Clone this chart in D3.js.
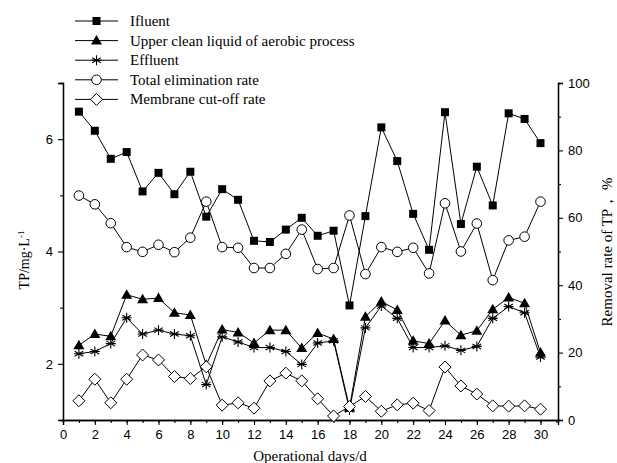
<!DOCTYPE html>
<html>
<head>
<meta charset="utf-8">
<script src="https://cdn.jsdelivr.net/npm/d3@7"></script>
<style>
  body { margin: 0; background: #fff; }
  svg { display: block; }
</style>
</head>
<body>
<div id="chart"></div>
<script>
// data
const days = d3.range(1, 31);
const influent = [6.49, 6.15, 5.65, 5.77, 5.07, 5.40, 5.02, 5.42, 4.62, 5.11, 4.92, 4.19, 4.17, 4.39, 4.60, 4.28, 4.37, 3.04, 4.63, 6.21, 5.61, 4.67, 4.03, 6.48, 4.49, 5.51, 4.82, 6.46, 6.36, 5.93];
const upperLiquid = [2.33, 2.53, 2.49, 3.23, 3.15, 3.17, 2.91, 2.87, 1.98, 2.61, 2.56, 2.37, 2.60, 2.60, 2.28, 2.55, 2.44, 1.22, 2.84, 3.11, 2.96, 2.41, 2.36, 2.77, 2.51, 2.59, 2.97, 3.18, 3.08, 2.20];
const effluent = [2.18, 2.22, 2.36, 2.82, 2.53, 2.60, 2.53, 2.50, 1.63, 2.48, 2.39, 2.29, 2.29, 2.22, 1.99, 2.37, 2.41, 1.18, 2.64, 3.03, 2.81, 2.29, 2.29, 2.32, 2.24, 2.31, 2.81, 3.02, 2.91, 2.12];
const totalRate = [66.6, 64.0, 58.4, 51.3, 49.9, 52.0, 49.8, 54.1, 64.8, 51.3, 51.1, 45.1, 45.1, 49.3, 56.5, 44.8, 45.1, 60.7, 43.3, 51.3, 49.9, 51.1, 43.5, 64.3, 50.0, 58.3, 41.5, 53.3, 54.4, 64.8];
const membraneRate = [5.7, 12.1, 5.1, 12.1, 19.3, 17.8, 12.9, 12.3, 15.8, 4.4, 5.1, 3.5, 11.6, 13.9, 11.6, 6.3, 1.2, 4.0, 7.0, 2.6, 4.5, 5.0, 2.8, 15.7, 10.1, 7.7, 4.2, 4.1, 4.2, 3.2];

const xTicks = d3.range(0, 31, 2);
const leftTicks = [2, 4, 6];
const rightTicks = [0, 20, 40, 60, 80, 100];

const W = 617, H = 463;
const plot = { left: 63, right: 558, top: 83, bottom: 420 };

const svg = d3.select('#chart').append('svg')
  .attr('width', W)
  .attr('height', H);

const x = d3.scaleLinear().domain([0, 31.1]).range([plot.left, plot.right]);
const yL = d3.scaleLinear().domain([1, 7]).range([plot.bottom, plot.top]);
const yR = d3.scaleLinear().domain([0, 100]).range([plot.bottom, plot.top]);

const tickFont = '"Liberation Sans", Arial, sans-serif';
const serif = '"Liberation Serif", "Times New Roman", serif';

// bottom axis
const gx = svg.append('g')
  .attr('transform', 'translate(0,' + plot.bottom + ')');
gx.call(d3.axisBottom(x).tickValues(d3.range(0, 32)).tickSize(3).tickFormat(''));
gx.append('g').call(d3.axisBottom(x).tickValues(xTicks).tickSize(5).tickPadding(5).tickFormat(d3.format('d')));

// left axis
const gl = svg.append('g')
  .attr('transform', 'translate(' + plot.left + ',0)');
gl.call(d3.axisLeft(yL).tickValues([1, 3, 5, 7]).tickSize(3).tickFormat(''));
gl.append('g').call(d3.axisLeft(yL).tickValues(leftTicks).tickSize(5).tickPadding(5).tickFormat(d3.format('d')));

// right axis
const gr = svg.append('g')
  .attr('transform', 'translate(' + plot.right + ',0)');
gr.call(d3.axisRight(yR).tickValues([10, 30, 50, 70, 90]).tickSize(3).tickFormat(''));
gr.append('g').call(d3.axisRight(yR).tickValues(rightTicks).tickSize(5).tickPadding(5).tickFormat(d3.format('d')));

svg.selectAll('.domain').attr('stroke', '#000').attr('stroke-width', 1.3);
svg.selectAll('.tick line').attr('stroke', '#000').attr('stroke-width', 1.1);
svg.selectAll('.tick text')
  .attr('fill', '#000')
  .style('font-family', tickFont)
  .style('font-size', '13px');

// axis titles
const leftTitle = svg.append('text')
  .attr('transform', 'translate(29,' + 260 + ') rotate(-90)')
  .attr('text-anchor', 'middle')
  .style('font-family', serif)
  .style('font-size', '14px');
leftTitle.append('tspan').text('TP/mg·L');
leftTitle.append('tspan').attr('dy', -5).style('font-size', '9px').text('-1');

svg.append('text')
  .attr('transform', 'translate(612,' + 252 + ') rotate(-90)')
  .attr('text-anchor', 'middle')
  .style('font-family', serif)
  .style('font-size', '15px')
  .text('Removal rate of  TP，  %');

svg.append('text')
  .attr('x', 310)
  .attr('y', 461)
  .attr('text-anchor', 'middle')
  .style('font-family', serif)
  .style('font-size', '15px')
  .text('Operational days/d');

// marker shapes
function drawMarker(g, kind) {
  if (kind === 'square') {
    g.append('rect').attr('x', -4).attr('y', -4).attr('width', 8).attr('height', 8).attr('fill', '#000');
  } else if (kind === 'triangle') {
    g.append('path').attr('d', 'M0,-5.5L5.5,4L-5.5,4Z').attr('fill', '#000');
  } else if (kind === 'star') {
    g.append('path')
      .attr('d', 'M0,-5V5M-4.3,-2.5L4.3,2.5M-4.3,2.5L4.3,-2.5M-5,0H5')
      .attr('stroke', '#000').attr('stroke-width', 1.1).attr('fill', 'none');
  } else if (kind === 'circle') {
    g.append('circle').attr('r', 4.8).attr('fill', '#fff').attr('stroke', '#000').attr('stroke-width', 1);
  } else if (kind === 'diamond') {
    g.append('path').attr('d', 'M0,-6L6,0L0,6L-6,0Z').attr('fill', '#fff').attr('stroke', '#000').attr('stroke-width', 1);
  }
}

const series = [
  { name: 'Ifluent', values: influent, y: yL, marker: 'square' },
  { name: 'Upper clean liquid of aerobic process', values: upperLiquid, y: yL, marker: 'triangle' },
  { name: 'Effluent', values: effluent, y: yL, marker: 'star' },
  { name: 'Total elimination rate', values: totalRate, y: yR, marker: 'circle' },
  { name: 'Membrane cut-off rate', values: membraneRate, y: yR, marker: 'diamond' }
];

series.forEach(s => {
  const pts = days.map((d, i) => [d, s.values[i]]);
  const line = d3.line().x(p => x(p[0])).y(p => s.y(p[1]));
  svg.append('path')
    .datum(pts)
    .attr('fill', 'none')
    .attr('stroke', '#000')
    .attr('stroke-width', 1)
    .attr('d', line);
});

series.forEach(s => {
  svg.append('g').selectAll('g')
    .data(days.map((d, i) => [d, s.values[i]]))
    .join('g')
    .attr('transform', p => 'translate(' + x(p[0]) + ',' + s.y(p[1]) + ')')
    .each(function () { drawMarker(d3.select(this), s.marker); });
});

// legend
const legend = svg.append('g').attr('transform', 'translate(75,21)');
series.forEach((s, i) => {
  const row = legend.append('g').attr('transform', 'translate(0,' + (i * 19.6) + ')');
  row.append('line').attr('x1', 0).attr('x2', 43).attr('y1', 0).attr('y2', 0)
    .attr('stroke', '#000').attr('stroke-width', 1);
  drawMarker(row.append('g').attr('transform', 'translate(21.5,0)'), s.marker);
  row.append('text')
    .attr('x', 55)
    .attr('y', 5)
    .style('font-family', serif)
    .style('font-size', '15px')
    .text(s.name);
});
</script>
</body>
</html>
